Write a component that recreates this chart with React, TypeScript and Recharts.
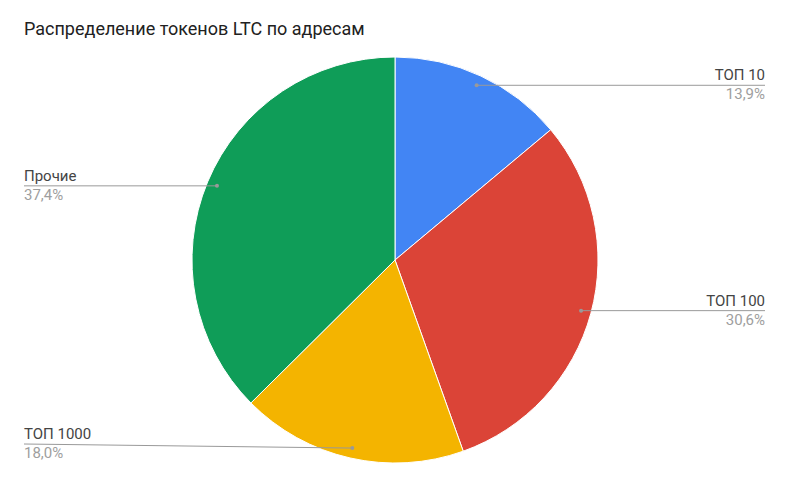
import React from 'react';
import { PieChart, Pie, Cell } from 'recharts';

const categories = ['ТОП 10', 'ТОП 100', 'ТОП 1000', 'Прочие'];
const values = [13.9, 30.6, 18.0, 37.4];
const colors = ['#4285F4', '#DB4437', '#F4B400', '#0F9D58'];

const data = categories.map((name, i) => ({ name, value: values[i] }));

const RADIAN = Math.PI / 180;
const W = 786;
const H = 486;
const LEFT_X = 24;
const RIGHT_X = 765;

const renderLabel = (props: any) => {
  const { cx, cy, midAngle, outerRadius, name, value } = props;
  const r = outerRadius * 0.95;
  const x = cx + r * Math.cos(-midAngle * RADIAN);
  const y = cy + r * Math.sin(-midAngle * RADIAN);
  const right = x > cx;
  const ly = Math.min(y, H - 42);
  const tx = right ? RIGHT_X : LEFT_X;
  const anchor = right ? 'end' : 'start';
  const pct = value.toFixed(1).replace('.', ',') + '%';
  return (
    <g>
      <line x1={x} y1={y} x2={tx} y2={ly} stroke="#999" strokeWidth={1} />
      <circle cx={x} cy={y} r={2} fill="#999" />
      <text x={tx} y={ly - 5} textAnchor={anchor} fontSize={15} fill="#444" fontFamily="Roboto">
        {name}
      </text>
      <text x={tx} y={ly + 14} textAnchor={anchor} fontSize={15} fill="#9e9e9e" fontFamily="Roboto">
        {pct}
      </text>
    </g>
  );
};

export default function App() {
  return (
    <div style={{ position: 'absolute', left: 0, top: 0, width: W, height: H, background: '#fff', fontFamily: 'Roboto' }}>
      <div style={{ position: 'absolute', left: 24, top: 18, fontSize: 18, color: '#212121', fontFamily: 'Roboto', whiteSpace: 'nowrap' }}>
        Распределение токенов LTC по адресам
      </div>
      <PieChart width={W} height={H} margin={{ top: 0, right: 0, bottom: 0, left: 0 }}>
        <Pie
          data={data}
          dataKey="value"
          nameKey="name"
          cx={395}
          cy={260}
          outerRadius={203}
          startAngle={90}
          endAngle={-270}
          stroke="#fff"
          strokeWidth={1}
          label={renderLabel}
          labelLine={false}
          isAnimationActive={false}
        >
          {data.map((d, i) => (
            <Cell key={d.name} fill={colors[i]} />
          ))}
        </Pie>
      </PieChart>
    </div>
  );
}
